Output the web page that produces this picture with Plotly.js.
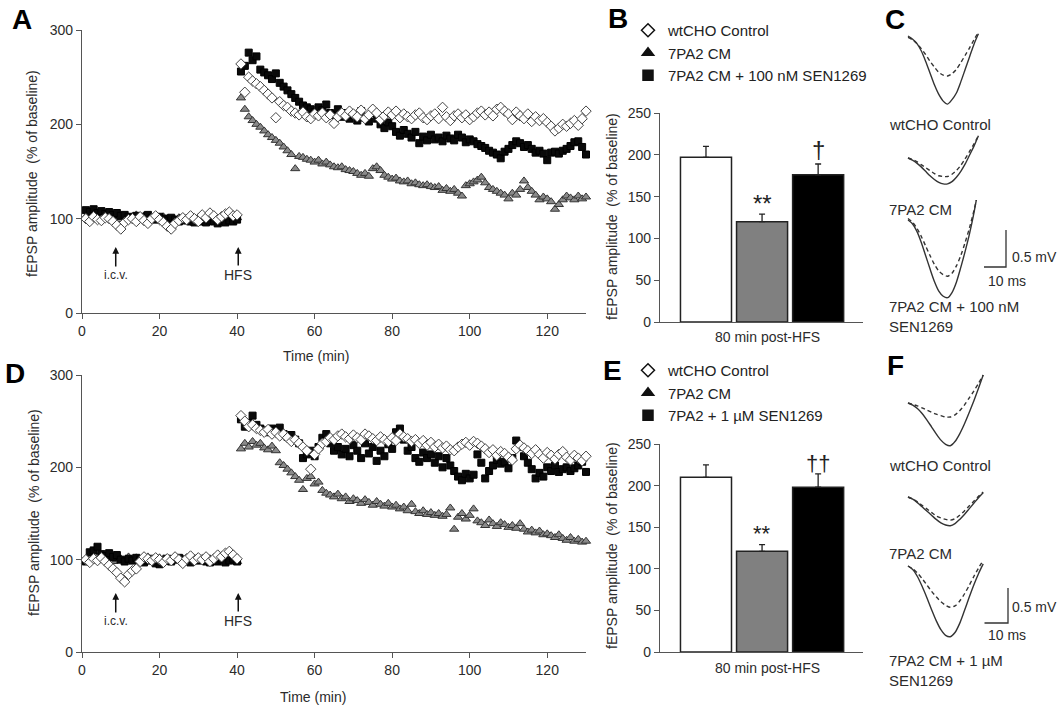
<!DOCTYPE html>
<html><head><meta charset="utf-8">
<script src="https://cdn.plot.ly/plotly-3.0.1.min.js"></script>
<style>html,body{margin:0;padding:0;background:#fff}#chart{width:1063px;height:708px}</style>
</head><body><div id="chart"></div>
<script>
// ---------- DATA ----------
const timeMin = [1,2,3,4,5,6,7,8,9,10,11,12,13,14,15,16,17,18,19,20,21,22,23,24,25,26,27,28,29,30,31,32,33,34,35,36,37,38,39,40,
41,42,43,44,45,46,47,48,49,50,51,52,53,54,55,56,57,58,59,60,61,62,63,64,65,66,67,68,69,70,71,72,73,74,75,76,77,78,79,80,
81,82,83,84,85,86,87,88,89,90,91,92,93,94,95,96,97,98,99,100,101,102,103,104,105,106,107,108,109,110,111,112,113,114,115,116,117,118,119,120,
121,122,123,124,125,126,127,128,129,130];

// Panel A (100 nM SEN1269 experiment)
const aControl = [100,97,102,99,98,101,100,97,93,89, 96,99,100,97,102,98,95,100,103,99, 96,92,89,95,98,101,99,103,100,97, 104,101,106,103,99,102,105,107,103,104,
264,234,250,246,243,240,236,232,228,207, 224,220,218,214,212,210,213,208,206,211, 209,212,207,210,201,208,212,209,214,211,
208,215,206,210,216,212,205,209,213,210, 214,207,211,208,206,210,212,207,205,209, 211,206,218,208,204,209,211,207,210,205,
208,212,214,210,213,209,216,218,214,211, 205,213,209,206,211,203,208,204,206,202, 198,193,196,200,198,201,204,199,206,214];
const aCM = [102,104,101,99,103,100,102,98,101,99, 97,100,102,104,101,103,99,101,100,98, 102,100,97,99,101,100,98,100,99,101, 100,98,99,97,98,100,99,98,100,101,
228,216,208,204,200,197,193,189,186,183, 180,176,172,168,153,166,165,163,162,160, 162,158,160,157,155,154,155,152,151,150,
148,146,148,145,153,155,151,146,144,142, 143,140,139,140,137,138,136,135,136,134, 133,134,130,132,129,131,127,124,135,137,
139,141,144,138,133,131,129,127,125,121, 127,125,131,140,133,129,125,120,123,121, 118,110,115,120,124,122,120,124,121,123];
const aSEN = [109,107,110,106,108,105,107,104,106,103, 104,102,101,103,100,102,104,101,99,102, 100,98,101,99,97,100,98,97,96,98, 97,96,98,97,95,97,96,98,97,99,
256,262,276,268,272,258,255,252,248,254, 244,240,236,232,228,224,220,218,216,213, 218,215,221,212,210,216,208,212,206,210,
204,214,207,203,212,206,200,196,202,198, 192,188,194,190,186,192,180,187,183,189, 184,186,182,188,185,183,189,186,181,184,
182,179,177,175,172,170,168,164,171,174, 178,182,180,176,178,174,170,172,169,162, 170,171,169,172,174,177,181,182,176,168];

// Panel D (1 µM SEN1269 experiment)
const dControl = [100,97,101,99,102,98,94,90,86,80, 76,84,88,90,98,103,101,99,102,100, 97,101,99,103,100,96,101,104,99,102, 100,103,98,101,105,103,107,109,105,101,
256,250,244,246,242,240,238,241,236,238, 234,236,232,228,230,226,222,218,198,214, 220,226,228,232,230,234,236,233,231,235,
232,230,236,234,231,229,233,230,228,232, 229,236,233,231,228,230,226,229,224,227, 222,225,221,223,219,218,222,225,227,224,
228,226,223,220,216,219,213,217,215,211, 208,220,224,221,218,215,219,214,210,216, 213,209,214,217,211,208,213,210,207,212];
const dCM = [98,101,100,103,99,100,102,98,100,101, 99,103,100,102,98,101,103,99,100,102, 101,98,100,103,99,101,100,102,99,101, 100,98,101,100,99,101,102,100,99,98,
220,226,222,228,224,226,221,219,223,218, 205,202,198,194,190,186,176,188,190,182, 184,175,172,170,168,171,166,168,163,166,
164,161,165,162,159,163,160,158,161,157, 159,155,157,153,160,152,150,153,149,151, 148,150,147,149,156,133,146,150,144,148,
155,142,140,137,143,139,136,140,138,135, 137,134,139,133,130,132,129,131,127,128, 126,124,127,123,121,124,120,122,119,120];
const dSEN = [98,108,110,114,106,104,107,103,105,100, 98,101,99,102,100,97,99,101,96,95, 99,101,98,100,102,98,99,97,101,99, 100,98,97,99,98,100,97,99,101,98,
252,244,248,256,246,242,240,238,242,240, 243,236,233,235,230,226,210,214,218,212, 222,232,236,226,218,222,214,220,212,224,
218,210,226,215,222,207,218,212,225,220, 238,242,230,218,222,210,206,216,210,214, 205,212,200,210,202,196,190,186,193,188,
192,214,205,188,196,202,208,204,206,199, 210,229,222,212,205,198,188,194,190,200, 196,202,195,198,200,196,199,202,206,195];

const timeTicks = [0,20,40,60,80,100,120];
const ampTicks = [0,100,200,300];
const barTicks = [0,50,100,150,200,250];

// Bar panels (80 min post-HFS)
const barGroups = ['wtCHO Control','7PA2 CM','7PA2 CM + SEN1269'];
const bMeans = [197,120,176];
const bSem   = [13,9,13];
const eMeans = [210,121,198];
const eSem   = [15,8,16];
const bSig = ['', '**', '\u2020'];
const bSigY = [0, 142, 206];
const eSig = ['', '**', '\u2020\u2020'];
const eSigY = [0, 142, 226];

// Legend labels
const legendB = ['wtCHO Control','7PA2 CM','7PA2 CM + 100 nM SEN1269'];
const legendE = ['wtCHO Control','7PA2 CM','7PA2 + 1 \u00b5M SEN1269'];

// Sample fEPSP traces (ms, mV); solid = post-HFS, dashed = baseline
const wfTime = [0,2,4,6,8,10,12,14,16,18,20,22,24,26,28,30,32];
const cCtrlPost = [0,-0.04,-0.1,-0.2,-0.34,-0.5,-0.66,-0.79,-0.88,-0.92,-0.86,-0.77,-0.62,-0.45,-0.28,-0.11,0.03];
const cCtrlPre  = [-0.02,-0.05,-0.1,-0.17,-0.25,-0.34,-0.42,-0.49,-0.53,-0.54,-0.51,-0.45,-0.36,-0.26,-0.16,-0.05,0.05];
const cCMPost   = [0,-0.03,-0.07,-0.12,-0.18,-0.24,-0.29,-0.33,-0.35,-0.35,-0.32,-0.26,-0.18,-0.08,0.04,0.16,0.3];
const cCMPre    = [0,-0.02,-0.05,-0.09,-0.13,-0.17,-0.21,-0.24,-0.25,-0.25,-0.22,-0.17,-0.1,-0.01,0.09,0.19,0.3];
const cSENPost  = [0,-0.05,-0.15,-0.3,-0.48,-0.66,-0.83,-0.96,-1.03,-1.05,-0.98,-0.84,-0.64,-0.42,-0.18,0.1,0.43];
const cSENPre   = [0.02,-0.03,-0.11,-0.22,-0.35,-0.48,-0.6,-0.69,-0.74,-0.76,-0.72,-0.62,-0.48,-0.3,-0.1,0.13,0.4];
const fCtrlPost = [0,-0.03,-0.08,-0.15,-0.24,-0.34,-0.44,-0.53,-0.59,-0.61,-0.55,-0.44,-0.3,-0.14,0.03,0.21,0.4];
const fCtrlPre  = [0,-0.02,-0.04,-0.07,-0.1,-0.13,-0.16,-0.18,-0.2,-0.2,-0.17,-0.11,-0.03,0.07,0.17,0.28,0.4];
const fCMPost   = [0,-0.03,-0.08,-0.14,-0.2,-0.26,-0.32,-0.37,-0.4,-0.41,-0.38,-0.32,-0.25,-0.17,-0.09,-0.01,0.06];
const fCMPre    = [0,-0.03,-0.07,-0.12,-0.17,-0.22,-0.27,-0.3,-0.32,-0.33,-0.31,-0.26,-0.2,-0.13,-0.06,0.01,0.07];
const fSENPost  = [0,-0.05,-0.15,-0.29,-0.45,-0.62,-0.78,-0.91,-0.99,-1.01,-0.95,-0.82,-0.64,-0.45,-0.27,-0.11,0.03];
const fSENPre   = [0,-0.04,-0.1,-0.18,-0.27,-0.36,-0.44,-0.51,-0.56,-0.59,-0.57,-0.5,-0.4,-0.28,-0.15,-0.03,0.08];
const scaleBarMs = 10, scaleBarMv = 0.5;

// ---------- LAYOUT HELPERS ----------
const W = 1063, H = 708;
const FONT = 'Arial, "Liberation Sans", sans-serif';
const INK = '#2b2b2b', AXC = '#555';
const fx = v => v / W;
const fy = v => 1 - v / H;

function timeAxis(){
  return {domain:[fx(82), fx(586)], range:[0,130], tickvals:timeTicks, ticks:'outside', ticklen:5,
    tickcolor:AXC, showline:true, linecolor:AXC, linewidth:1.2, showgrid:false, zeroline:false,
    tickfont:{size:14, color:INK, family:FONT}, fixedrange:true};
}
function ampAxis(top, bot, anchor){
  return {domain:[fy(bot), fy(top)], range:[0,300], tickvals:ampTicks, ticks:'outside', ticklen:5,
    tickcolor:AXC, showline:true, linecolor:AXC, linewidth:1.2, showgrid:false, zeroline:false,
    tickfont:{size:14, color:INK, family:FONT}, anchor:anchor, fixedrange:true};
}
function barX(anchor){
  return {domain:[fx(660), fx(863)], type:'category', range:[-0.82, 2.8], showticklabels:false, ticks:'',
    showline:true, linecolor:AXC, linewidth:1.2, showgrid:false, zeroline:false, anchor:anchor, fixedrange:true};
}
function barY(top, bot, anchor){
  return {domain:[fy(bot), fy(top)], range:[0,250], tickvals:barTicks, ticks:'outside', ticklen:5,
    tickcolor:AXC, showline:true, linecolor:AXC, linewidth:1.2, showgrid:false, zeroline:false,
    tickfont:{size:14, color:INK, family:FONT}, anchor:anchor, fixedrange:true};
}
// waveform axis: zero level at zeroPx, pxPerMv pixels per mV
function waveY(top, bot, zeroPx, ppu, anchor){
  return {domain:[fy(bot), fy(top)], range:[-(bot-zeroPx)/ppu, (zeroPx-top)/ppu], visible:false, anchor:anchor, fixedrange:true};
}
function waveX(startPx, ppms, anchor){
  return {domain:[fx(885), fx(1060)], range:[(885-startPx)/ppms, (1060-startPx)/ppms], visible:false, anchor:anchor, fixedrange:true};
}

const diamondM = {symbol:'diamond', size:8, color:'#fff', line:{color:'#444', width:1}};
const triM = {symbol:'triangle-up', size:8, color:'#8a8a8a', line:{color:'#333', width:1}};
const sqM = {symbol:'square', size:7, color:'#0a0a0a', line:{color:'#000', width:1}};

function series(y, marker, xa, ya){
  return {type:'scatter', mode:'markers', x:timeMin, y:y, marker:marker, xaxis:xa, yaxis:ya,
    showlegend:false, cliponaxis:false, hoverinfo:'x+y'};
}
function legendEntry(name, symbol, fill, lg, rank){
  return {type:'scatter', mode:'markers', x:[null], y:[null], name:name, legend:lg, legendrank:rank,
    marker:{symbol:symbol, size:10, color:fill, line:{color:'#111', width:1.5}}, xaxis:'x', yaxis:'y', hoverinfo:'skip'};
}
function bars(means, sem, xa, ya){
  return {type:'bar', x:barGroups, y:means, width:0.91, xaxis:xa, yaxis:ya, showlegend:false,
    marker:{color:['#ffffff','#808080','#000000'], line:{color:'#222', width:1.5}},
    error_y:{type:'data', symmetric:false, array:sem, arrayminus:[0,0,0], color:'#222', thickness:1.3, width:3}};
}
function wave(y, dashed, xa, ya){
  return {type:'scatter', mode:'lines', x:wfTime, y:y, xaxis:xa, yaxis:ya, showlegend:false,
    line:{color:'#333', width:1.4, dash: dashed ? '4px,3px' : 'solid', shape:'spline', smoothing:0.8}, hoverinfo:'skip'};
}

const data = [
  series(aCM, triM, 'x', 'y'), series(aSEN, sqM, 'x', 'y'), series(aControl, diamondM, 'x', 'y'),
  series(dCM, triM, 'x3', 'y3'), series(dSEN, sqM, 'x3', 'y3'), series(dControl, diamondM, 'x3', 'y3'),
  bars(bMeans, bSem, 'x2', 'y2'), bars(eMeans, eSem, 'x4', 'y4'),
  legendEntry(legendB[0], 'diamond-open', '#111', 'legend', 1),
  legendEntry(legendB[1], 'triangle-up', '#111', 'legend', 2),
  legendEntry(legendB[2], 'square', '#111', 'legend', 3),
  legendEntry(legendE[0], 'diamond-open', '#111', 'legend2', 1),
  legendEntry(legendE[1], 'triangle-up', '#111', 'legend2', 2),
  legendEntry(legendE[2], 'square', '#111', 'legend2', 3),
  wave(cCtrlPre, true, 'x5', 'y5'), wave(cCtrlPost, false, 'x5', 'y5'),
  wave(cCMPre, true, 'x5', 'y6'), wave(cCMPost, false, 'x5', 'y6'),
  wave(cSENPre, true, 'x5', 'y7'), wave(cSENPost, false, 'x5', 'y7'),
  wave(fCtrlPre, true, 'x6', 'y8'), wave(fCtrlPost, false, 'x6', 'y8'),
  wave(fCMPre, true, 'x6', 'y9'), wave(fCMPost, false, 'x6', 'y9'),
  wave(fSENPre, true, 'x6', 'y10'), wave(fSENPost, false, 'x6', 'y10')
];

// geometry of the trace panels
const C_PPMS = 2.2, C_PPMV = 74, F_PPMS = 2.35, F_PPMV = 70, WF_START = 908;

function ann(text, x, y, opts){
  return Object.assign({text:text, xref:'paper', yref:'paper', x:fx(x), y:fy(y), showarrow:false,
    xanchor:'center', yanchor:'middle', font:{size:14, color:INK, family:FONT}}, opts||{});
}
function letter(t, x, y){ return ann('<b>'+t+'</b>', x, y, {font:{size:28, color:'#000', family:FONT}}); }
function yTitle(x, y){ return ann('fEPSP amplitude  (% of baseline)', x, y, {textangle:-90}); }
function arrowAnn(text, xa, ya, t, v, size){
  return {text:text, xref:xa, yref:ya, x:t, y:v, showarrow:true, ax:0, ay:28, arrowhead:2, arrowsize:0.9,
    arrowwidth:1.5, arrowcolor:'#111', standoff:0, font:{size:size, color:INK, family:FONT}};
}
function sigAnns(sig, sigY, xa, ya, size){
  const out = [];
  sig.forEach((s, i) => { if (s) out.push({text:s, xref:xa, yref:ya, x:barGroups[i], y:sigY[i], showarrow:false,
    font:{size:size, color:'#222', family:FONT}, xanchor:'center', yanchor:'middle'}); });
  return out;
}
const lbl = {xanchor:'left', align:'left', font:{size:15, color:INK, family:FONT}};

const annotations = [
  letter('A', 22, 19), letter('B', 618, 18), letter('C', 895, 19),
  letter('D', 15, 373), letter('E', 612, 370), letter('F', 895, 366),
  yTitle(32, 174), yTitle(34, 513), yTitle(612, 217), yTitle(612, 546),
  ann('Time (min)', 316, 356), ann('Time (min)', 313, 697),
  ann('80 min post-HFS', 767, 337), ann('80 min post-HFS', 767, 668),
  arrowAnn('i.c.v.', 'x', 'y', 8.7, 70, 12), arrowAnn('HFS', 'x', 'y', 40.3, 70, 14),
  arrowAnn('i.c.v.', 'x3', 'y3', 8.7, 64, 12), arrowAnn('HFS', 'x3', 'y3', 40.3, 64, 14),
  ...sigAnns(bSig, bSigY, 'x2', 'y2', 24), ...sigAnns(eSig, eSigY, 'x4', 'y4', 22),
  ann('wtCHO Control', 887, 124, lbl),
  ann('7PA2 CM', 887, 209, lbl),
  ann('7PA2 CM + 100 nM<br>SEN1269', 887, 316, lbl),
  ann('0.5 mV', 1010, 257, {xanchor:'left'}), ann('10 ms', 986, 281, {xanchor:'left'}),
  ann('wtCHO Control', 887, 465, lbl),
  ann('7PA2 CM', 887, 553, lbl),
  ann('7PA2 CM + 1 \u00b5M<br>SEN1269', 887, 670, lbl),
  ann('0.5 mV', 1010, 607, {xanchor:'left'}), ann('10 ms', 986, 635, {xanchor:'left'})
];

// scale bars in the axes of the third trace of each panel
function scaleBar(xa, ya, rightPx, bottomPx, zeroPx, ppms, ppmv){
  const xr = (rightPx - WF_START) / ppms, yb = (zeroPx - bottomPx) / ppmv;
  return {type:'path', xref:xa, yref:ya,
    path:'M '+(xr - scaleBarMs)+','+yb+' L '+xr+','+yb+' L '+xr+','+(yb + scaleBarMv),
    line:{color:'#333', width:1.3}};
}

const legendBase = {xanchor:'left', yanchor:'top', bgcolor:'rgba(0,0,0,0)', borderwidth:0,
  font:{size:15, color:'#222', family:FONT}, itemsizing:'trace', tracegroupgap:0, traceorder:'normal'};

const layout = {
  width:W, height:H, margin:{l:0, r:0, t:0, b:0}, paper_bgcolor:'#fff', plot_bgcolor:'rgba(0,0,0,0)',
  font:{family:FONT, color:INK}, showlegend:true,
  xaxis: Object.assign(timeAxis(), {anchor:'y'}),
  yaxis: ampAxis(30, 313, 'x'),
  xaxis3: Object.assign(timeAxis(), {anchor:'y3'}),
  yaxis3: ampAxis(375, 652, 'x3'),
  xaxis2: barX('y2'), yaxis2: barY(113, 322, 'x2'),
  xaxis4: barX('y4'), yaxis4: barY(444, 652, 'x4'),
  xaxis5: waveX(WF_START, C_PPMS, 'y5'),
  yaxis5: waveY(20, 115, 36, C_PPMV, 'x5'),
  yaxis6: waveY(125, 200, 158, C_PPMV, 'x5'),
  yaxis7: waveY(200, 312, 220, C_PPMV, 'x5'),
  xaxis6: waveX(WF_START, F_PPMS, 'y8'),
  yaxis8: waveY(360, 455, 403, F_PPMV, 'x6'),
  yaxis9: waveY(470, 540, 497, F_PPMV, 'x6'),
  yaxis10: waveY(545, 655, 566, F_PPMV, 'x6'),
  legend: Object.assign({x:fx(628), y:fy(14)}, legendBase),
  legend2: Object.assign({x:fx(628), y:fy(354)}, legendBase),
  annotations: annotations,
  shapes: [
    scaleBar('x5', 'y7', 1006, 267, 220, C_PPMS, C_PPMV),
    scaleBar('x6', 'y10', 1008, 623, 566, F_PPMS, F_PPMV)
  ]
};

Plotly.newPlot('chart', data, layout, {staticPlot:true, displayModeBar:false});
</script>
</body></html>
